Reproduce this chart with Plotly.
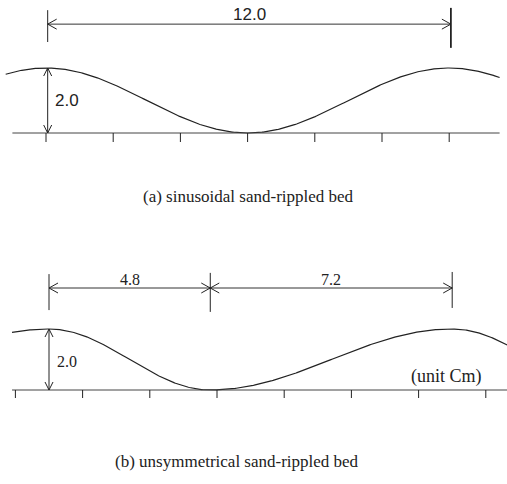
import numpy as np
import plotly.graph_objects as go

# ---- figure content (cm) ----
wavelength = 12.0
ripple_height = 2.0
asym_crest_to_trough = 4.8
asym_trough_to_crest = 7.2
ticks_a = [0, 2, 4, 6, 8, 10, 12]
ticks_b = [-1, 1, 3, 5, 7, 9, 11, 13]
dim_label_a = "12.0"
dim_labels_b = ["4.8", "7.2"]
height_label = "2.0"
captions = ["(a) sinusoidal sand-rippled bed", "(b) unsymmetrical sand-rippled bed"]
unit_label = "(unit Cm)"

# ---- layout constants ----
W, H = 507, 484
SX = 33.6            # px per cm, horizontal
SY_A, SY_B = 32.5, 30.5
X0_A, X0_B = 46, 49  # pixel of crest x=0
BASE_A, BASE_B = 133, 390
INK = "#222222"
SERIF = "Liberation Serif, Times New Roman, serif"
SANS = "Liberation Sans, Arial, sans-serif"

fig = go.Figure()


def line(xs, ys, panel, width=1.0, color=INK):
    ax = "x" if panel == "a" else "x2"
    ay = "y" if panel == "a" else "y2"
    fig.add_trace(go.Scatter(x=xs, y=ys, mode="lines", xaxis=ax, yaxis=ay,
                             line=dict(color=color, width=width),
                             hoverinfo="skip", showlegend=False))


def arrowhead(x, y, dx, dy, panel, L=9, Wd=5):
    """open V arrowhead with tip at (x, y), pointing along pixel direction (dx, dy)."""
    sy = SY_A if panel == "a" else SY_B
    n = np.hypot(dx, dy)
    ux, uy = dx / n, dy / n
    px, py = -uy, ux
    pts_x, pts_y = [], []
    for s in (1, -1):
        bx = -ux * L + s * px * Wd
        by = -uy * L + s * py * Wd
        pts_x += [x + bx / SX, x, None]
        pts_y += [y + by / sy, y, None]
    line(pts_x, pts_y, panel, width=1.0)


# ---- panel (a): sinusoidal ----
xa = np.linspace(-1.2, 13.5, 400)
ya = ripple_height / 2 * (1 + np.cos(2 * np.pi * xa / wavelength))
line(xa, ya, "a", width=1.2)
line([-1.0, 13.5], [0, 0], "a", width=1.0, color="#444444")
tl_a = 9 / SY_A
tx, ty = [], []
for t in ticks_a:
    tx += [t, t, None]
    ty += [0, -tl_a, None]
line(tx, ty, "a", width=1.0)

# horizontal dimension 12.0
dim_y_a = 3.35
xl, xr = 0.05, wavelength + 0.05
line([xl, xr], [dim_y_a, dim_y_a], "a", width=1.0, color="#333333")
line([xl, xl], [2.8, 3.78], "a", width=1.0)
line([xr, xr], [2.62, 3.85], "a", width=1.8)
arrowhead(xl, dim_y_a, -1, 0, "a")
arrowhead(xr, dim_y_a, 1, 0, "a")
fig.add_annotation(x=(xl + xr) / 2, y=3.66, xref="x", yref="y", text=dim_label_a,
                   showarrow=False, font=dict(family=SANS, size=17, color=INK))

# vertical dimension 2.0
line([0.05, 0.05], [0, ripple_height], "a", width=1.0)
arrowhead(0.05, ripple_height, 0, 1, "a", L=8, Wd=4)
arrowhead(0.05, 0, 0, -1, "a", L=8, Wd=4)
fig.add_annotation(x=0.2, y=ripple_height / 2, xref="x", yref="y", text=height_label,
                   xanchor="left", showarrow=False, font=dict(family=SANS, size=17, color=INK))

# ---- panel (b): unsymmetrical ----
a_len, b_len = asym_crest_to_trough, asym_trough_to_crest
xb = np.linspace(-1.1, 13.7, 500)
t = np.mod(xb, a_len + b_len)
yb = np.where(t < a_len,
              ripple_height / 2 * (1 + np.cos(np.pi * t / a_len)),
              ripple_height / 2 * (1 - np.cos(np.pi * (t - a_len) / b_len)))
line(xb, yb, "b", width=1.2)
line([-1.1, 13.7], [0, 0], "b", width=1.0, color="#444444")
tl_b = 8 / SY_B
tx, ty = [], []
for tk in ticks_b:
    tx += [tk, tk, None]
    ty += [0, -tl_b, None]
line(tx, ty, "b", width=1.0)

dim_y_b = 3.344
xs_b = [0.0, a_len, a_len + b_len]
line([xs_b[0], xs_b[2]], [dim_y_b, dim_y_b], "b", width=1.0, color="#333333")
for xe, (y0, y1) in zip(xs_b, [(2.62, 3.80), (2.56, 3.84), (2.69, 3.87)]):
    line([xe, xe], [y0, y1], "b", width=1.0)
arrowhead(xs_b[0], dim_y_b, -1, 0, "b")
arrowhead(xs_b[1], dim_y_b, 1, 0, "b")
arrowhead(xs_b[1], dim_y_b, -1, 0, "b")
arrowhead(xs_b[2], dim_y_b, 1, 0, "b")
for i, lab in enumerate(dim_labels_b):
    fig.add_annotation(x=(xs_b[i] + xs_b[i + 1]) / 2, y=3.62, xref="x2", yref="y2", text=lab,
                       showarrow=False, font=dict(family=SERIF, size=16, color=INK))

line([0.0, 0.0], [0, ripple_height], "b", width=1.0)
arrowhead(0.0, ripple_height, 0, 1, "b", L=8, Wd=4)
arrowhead(0.0, 0, 0, -1, "b", L=8, Wd=4)
fig.add_annotation(x=0.18, y=0.92, xref="x2", yref="y2", text=height_label,
                   xanchor="left", showarrow=False, font=dict(family=SERIF, size=16, color=INK))
fig.add_annotation(x=12.95, y=0.43, xref="x2", yref="y2", text=unit_label,
                   xanchor="right", showarrow=False, font=dict(family=SERIF, size=18, color=INK))

# captions
fig.add_annotation(x=248 / W, y=1 - 197 / H, xref="paper", yref="paper", text=captions[0],
                   showarrow=False, font=dict(family=SERIF, size=17, color=INK))
fig.add_annotation(x=237 / W, y=1 - 473 / H, xref="paper", yref="paper", text=captions[1],
                   showarrow=False, font=dict(family=SERIF, size=17, color=INK))

half = 0.5
fig.update_layout(
    width=W, height=H, margin=dict(l=0, r=0, t=0, b=0),
    paper_bgcolor="white", plot_bgcolor="white", showlegend=False,
    xaxis=dict(domain=[0, 1], range=[-X0_A / SX, (W - X0_A) / SX], visible=False, anchor="y"),
    yaxis=dict(domain=[half, 1], range=[(BASE_A - H * half) / SY_A, BASE_A / SY_A], visible=False, anchor="x"),
    xaxis2=dict(domain=[0, 1], range=[-X0_B / SX, (W - X0_B) / SX], visible=False, anchor="y2"),
    yaxis2=dict(domain=[0, half], range=[(BASE_B - H) / SY_B, (BASE_B - H * half) / SY_B], visible=False, anchor="x2"),
)

fig.write_html("out.html", config={"displayModeBar": False},
               post_script="document.body.style.margin='0';document.body.style.overflow='hidden';")
